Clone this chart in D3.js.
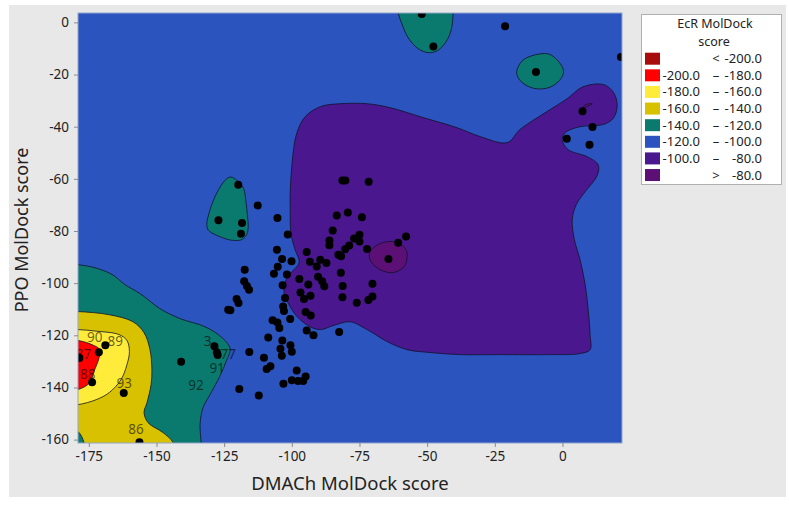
<!DOCTYPE html>
<html><head><meta charset="utf-8">
<script src="https://cdn.jsdelivr.net/npm/d3@7"></script>
<style>
body{margin:0;background:#fff;}
text{font-family:"Noto Sans","Open Sans",sans-serif;}
</style>
</head><body>
<svg id="c" width="789" height="505"></svg>
<script>
// ---------- data ----------
const xTicks = [-175,-150,-125,-100,-75,-50,-25,0];
const yTicks = [0,-20,-40,-60,-80,-100,-120,-140,-160];
const xDomain = [-179, 22.0];
const yDomain = [-161.3, 3.6];

const legendLevels = ["< -200.0","-200.0 – -180.0","-180.0 – -160.0","-160.0 – -140.0","-140.0 – -120.0","-120.0 – -100.0","-100.0 – -80.0","> -80.0"];
const levelColors = ["#a80c0c","#ff0000","#ffec3a","#d8c200","#0b7a6e","#2b54bf","#4a178e","#5c1075"];

// scatter points: DMACh score, PPO score
const dmach = [-52.0,-47.7,-21.2,-9.8,21.6,7.4,11.1,1.6,10.0,-81.3,-80.2,-71.6,
 -119.8,-112.6,-127.1,-118.4,-118.8,-105.3,-101.5,
 -83.4,-79.3,-74.1,-84.9,-86.1,-86.1,-77.0,-75.0,-75.0,-78.8,-80.3,-82.8,-81.8,-72.2,-60.7,-57.8,-64.3,
 -105.5,-103.6,-100.1,-105.2,-106.6,-101.8,-94.5,-93.3,-90.8,-89.5,-87.2,-90.3,-88.8,-88.0,-81.9,-97.2,-93.9,-103.4,-81.2,-70.2,
 -117.4,-117.6,-116.6,-115.8,-96.8,-95.5,-93.1,-81.3,-70.2,-71.7,-76.0,-102.5,-103.2,-102.9,
 -120.4,-119.7,-123.5,-122.7,-94.9,-93.0,-100.6,-107.1,-105.3,-104.6,-94.5,-92.0,-82.5,
 -108.7,-103.5,-100.5,-104.2,-100.0,-103.7,-115.7,-110.3,-107.9,-109.3,-98.2,-94.9,-95.8,-97.7,-100.0,-103.1,-119.4,-112.2,
 -140.9,-128.6,-127.7,-127.4,-168.9,-171.3,-178.5,-173.8,-162.1,-156.3];
const ppo = [3.2,-9.2,-1.5,-19.0,-13.3,-34.1,-40.1,-44.6,-46.9,-60.6,-60.6,-61.1,
 -62.3,-70.2,-75.9,-76.9,-81.1,-75.0,-81.3,
 -74.1,-72.9,-74.7,-79.8,-83.6,-85.5,-82.9,-81.4,-84.0,-85.6,-87.0,-89.1,-89.7,-86.9,-84.5,-82.1,-90.7,
 -87.2,-90.7,-91.6,-93.7,-96.4,-96.7,-88.1,-91.8,-93.6,-91.0,-92.3,-97.5,-99.3,-101.2,-96.0,-98.4,-100.5,-100.8,-101.1,-100.2,
 -94.9,-99.3,-101.1,-102.5,-103.6,-106.1,-104.8,-105.4,-105.1,-106.5,-107.5,-105.7,-109.0,-110.7,
 -106.1,-107.6,-110.2,-110.4,-111.1,-112.4,-113.7,-114.2,-115.1,-117.2,-118.2,-120.0,-118.7,
 -120.8,-122.0,-123.8,-125.2,-126.3,-127.8,-126.4,-128.6,-131.9,-132.9,-133.5,-135.8,-137.5,-137.5,-137.2,-138.6,-140.6,-143.1,
 -130.1,-124.2,-126.5,-127.6,-123.8,-126.5,-128.7,-138.0,-142.1,-161.0];

// point labels
const labelText = ["90","89","87","88","93","86","3","77","91","92"];
const labelX = [-172.8,-165.2,-177.0,-175.4,-161.9,-157.6,-131.1,-123.5,-127.6,-135.4];
const labelY = [-120.9,-122.3,-127.2,-135.1,-138.5,-155.9,-122.3,-127.1,-132.8,-139.2];

// contour region boundaries (data units)
const tealLow = [[-185,-92.0],[-179,-92.9],[-172.7,-94.1],[-166.4,-96.7],[-161.6,-100.6],[-156.1,-104.0],[-148.7,-109.8],[-141.3,-113.6],[-132.1,-116.7],[-125.8,-120.9],[-122.8,-125.1],[-124.3,-130.1],[-126.5,-135.5],[-130.2,-142.7],[-132.8,-147.7],[-133.9,-154.2],[-133.5,-161.1],[-133.3,-167]];
const tealLowOut = [[-185,-167]];
const goldA = [[-185,-110.9],[-179,-110.9],[-167.5,-112.1],[-158.7,-114.8],[-154.6,-119.0],[-152.4,-125.5],[-151.7,-133.2],[-152.0,-138.9],[-153.5,-145.8],[-154.6,-149.6],[-153.1,-153.5],[-147.6,-157.3],[-143.9,-161.1],[-142.5,-167]];
const goldB = [[-176.3,-167],[-176.8,-161.1],[-179,-156.9],[-185,-154]];
const yellowR = [[-185,-117.8],[-179,-117.8],[-172.3,-118.4],[-163.9,-119.7],[-160.9,-122.0],[-160.0,-126.3],[-160.9,-131.2],[-163.1,-137.0],[-167.5,-142.0],[-172.3,-144.7],[-179,-146.6],[-185,-147]];
const redR = [[-185,-122],[-179,-122.0],[-173.8,-123.6],[-170.9,-125.5],[-171.2,-128.6],[-173.1,-133.9],[-174.6,-138.1],[-179,-140.8],[-185,-141]];
const tealIsleL = [[-122.6,-59.3],[-120.2,-60.7],[-117.9,-63.5],[-116.9,-69.2],[-116.4,-74.1],[-116.1,-78.2],[-116.7,-81.4],[-118.5,-83.3],[-121.6,-83.6],[-125.3,-82.7],[-130.8,-79.7],[-131.4,-77.6],[-130.2,-71.8],[-127.7,-65.4],[-124.7,-60.6]];
const tealIsleTop = [[-61.5,10],[-60.7,3.7],[-59.2,-0.9],[-57.0,-5.9],[-53.3,-10.1],[-49.6,-11.6],[-46.3,-10.9],[-43.0,-7.4],[-41.1,-2.8],[-40.4,3.7],[-40.4,10]];
const tealIsleR = [[-16.9,-18.8],[-15.0,-14.9],[-11.3,-12.8],[-5.2,-12.1],[-1.5,-14.9],[0.4,-18.8],[-0.9,-22.0],[-4.5,-24.8],[-9.4,-25.5],[-13.8,-23.9],[-16.3,-21.3]];
const purpleR = [[-100.6,-65.3],[-99.5,-50.0],[-98.1,-42.3],[-95.1,-36.2],[-89.4,-32.3],[-82.2,-31.2],[-72.2,-31.2],[-63.7,-32.7],[-51.5,-36.5],[-38.9,-40.4],[-30.4,-43.8],[-20.4,-46.1],[-15.7,-41.1],[-5.7,-34.2],[1.7,-29.3],[7.6,-24.7],[15.4,-23.9],[19.1,-27.3],[20.2,-32.3],[18.7,-36.9],[15.0,-39.2],[6.5,-40.0],[1.0,-42.3],[-0.1,-45.0],[2.1,-48.8],[9.1,-51.5],[13.2,-54.6],[12.8,-58.8],[8.4,-64.9],[5.1,-69.9],[3.6,-75.6],[4.4,-83.3],[6.5,-91.0],[8.4,-100.6],[9.5,-110.2],[10.2,-119.7],[10.2,-125.5],[6.5,-127.0],[-4.5,-127.4],[-23.0,-127.4],[-37.8,-127.4],[-48.9,-126.6],[-57.4,-125.5],[-64.8,-122.4],[-72.2,-117.8],[-78.5,-114.8],[-84.8,-116.3],[-89.4,-117.8],[-93.3,-116.7],[-98.1,-112.8],[-101.4,-107.5],[-102.9,-103.3],[-101.8,-97.9],[-97.3,-92.1],[-98.8,-87.2],[-100.3,-81.0],[-100.6,-70.7]];
const darkPurpleR = [[-71.1,-87.9],[-68.1,-85.2],[-64.8,-84.1],[-60.7,-84.5],[-57.8,-87.2],[-57.4,-90.2],[-58.5,-93.7],[-62.9,-96.0],[-68.1,-94.4],[-71.1,-91.0]];
const darkSliver = [[7.6,-32.7],[8.4,-31.6],[11.0,-31.2],[9.5,-32.1]];

// ---------- layout ----------
const L = 78, R = 622, T = 13, B = 443;
const svg = d3.select("#c");
svg.append("rect").attr("x",9).attr("y",5).attr("width",777).attr("height",492).attr("fill","#e8e8e8");

const x = d3.scaleLinear().domain(xDomain).range([L,R]);
const y = d3.scaleLinear().domain(yDomain).range([B,T]);

svg.append("clipPath").attr("id","pc").append("rect").attr("x",L).attr("y",T).attr("width",R-L).attr("height",B-T);
const g = svg.append("g").attr("clip-path","url(#pc)");

g.append("rect").attr("x",L).attr("y",T).attr("width",R-L).attr("height",B-T).attr("fill",levelColors[5]);

const lineOpen = d3.line().x(d=>x(d[0])).y(d=>y(d[1])).curve(d3.curveCatmullRom.alpha(0.5));
const lineClosed = d3.line().x(d=>x(d[0])).y(d=>y(d[1])).curve(d3.curveCatmullRomClosed.alpha(0.5));
const pts = arr => arr.map(p=>"L"+x(p[0])+","+y(p[1])).join("");

function region(d, color){
  g.append("path").attr("d",d).attr("fill",color).attr("stroke","#10122a").attr("stroke-width",0.8).attr("stroke-linejoin","round");
}
region(lineOpen(tealLow)+pts(tealLowOut)+"Z", levelColors[4]);
region(lineOpen(goldA)+"L"+lineOpen(goldB).slice(1)+"Z", levelColors[3]);
region(lineOpen(yellowR)+"Z", levelColors[2]);
region(lineOpen(redR)+"Z", levelColors[1]);
region(lineClosed(tealIsleL), levelColors[4]);
region(lineOpen(tealIsleTop)+"Z", levelColors[4]);
region(lineClosed(tealIsleR), levelColors[4]);
region(lineClosed(purpleR), levelColors[6]);
region(lineClosed(darkPurpleR), levelColors[7]);
region(lineClosed(darkSliver), levelColors[7]);

// points
g.selectAll("circle.pt").data(d3.range(dmach.length)).join("circle")
  .attr("class","pt").attr("cx",i=>x(dmach[i])).attr("cy",i=>y(ppo[i])).attr("r",4).attr("fill","#000");

// labels
g.selectAll("text.lb").data(d3.range(labelText.length)).join("text")
  .attr("class","lb").attr("x",i=>x(labelX[i])).attr("y",i=>y(labelY[i])).attr("dy","0.35em")
  .attr("text-anchor","middle").attr("font-size",13.5).attr("fill","#000").attr("fill-opacity",0.6)
  .text(i=>labelText[i]);

// frame
svg.append("rect").attr("x",L).attr("y",T).attr("width",R-L).attr("height",B-T)
  .attr("fill","none").attr("stroke","#93a6c9").attr("stroke-width",1);

// axes
const xa = svg.append("g").attr("transform",`translate(0,${B})`)
  .call(d3.axisBottom(x).tickValues(xTicks).tickSize(4).tickPadding(4).tickFormat(d=>String(d)));
const ya = svg.append("g").attr("transform",`translate(${L},0)`)
  .call(d3.axisLeft(y).tickValues(yTicks).tickSize(4).tickPadding(5).tickFormat(d=>String(d)));
[xa,ya].forEach(a=>{
  a.select(".domain").remove();
  a.selectAll(".tick line").attr("stroke","#8a8a8a");
  a.selectAll(".tick text").attr("font-size",13.5).attr("fill","#222").style("font-family",'"Noto Sans","Open Sans",sans-serif');
});

svg.append("text").attr("x",350).attr("y",484).attr("dy","0.35em").attr("text-anchor","middle")
  .attr("font-size",18.5).attr("fill","#222").text("DMACh MolDock score");
svg.append("text").attr("transform","translate(22,230) rotate(-90)").attr("dy","0.35em").attr("text-anchor","middle")
  .attr("font-size",18).attr("fill","#222").text("PPO MolDock score");

// legend
const lg = svg.append("g");
lg.append("rect").attr("x",641.5).attr("y",14.5).attr("width",140).attr("height",170)
  .attr("fill","#fff").attr("stroke","#b0b0b0").attr("stroke-width",1);
lg.append("text").attr("x",715).attr("y",24).attr("dy","0.35em").attr("text-anchor","middle").attr("font-size",12.5).attr("fill","#222").text("EcR MolDock");
lg.append("text").attr("x",714).attr("y",41.5).attr("dy","0.35em").attr("text-anchor","middle").attr("font-size",12.5).attr("fill","#222").text("score");
legendLevels.forEach((lab,i)=>{
  const cy = 58.7 + i*16.62;
  lg.append("rect").attr("x",645).attr("y",cy-6).attr("width",15).attr("height",12).attr("fill",levelColors[i]);
  let a, sym, b;
  if (lab.startsWith("<") || lab.startsWith(">")) { sym = lab[0]; a = ""; b = lab.slice(2); }
  else { const parts = lab.split(" – "); a = parts[0]; sym = "–"; b = parts[1]; }
  lg.append("text").attr("x",700).attr("y",cy).attr("dy","0.35em").attr("text-anchor","end").attr("font-size",13).attr("fill","#222").text(a);
  lg.append("text").attr("x",716).attr("y",cy).attr("dy","0.35em").attr("text-anchor","middle").attr("font-size",13).attr("fill","#222").text(sym);
  lg.append("text").attr("x",762).attr("y",cy).attr("dy","0.35em").attr("text-anchor","end").attr("font-size",13).attr("fill","#222").text(b);
});
</script>
</body></html>
